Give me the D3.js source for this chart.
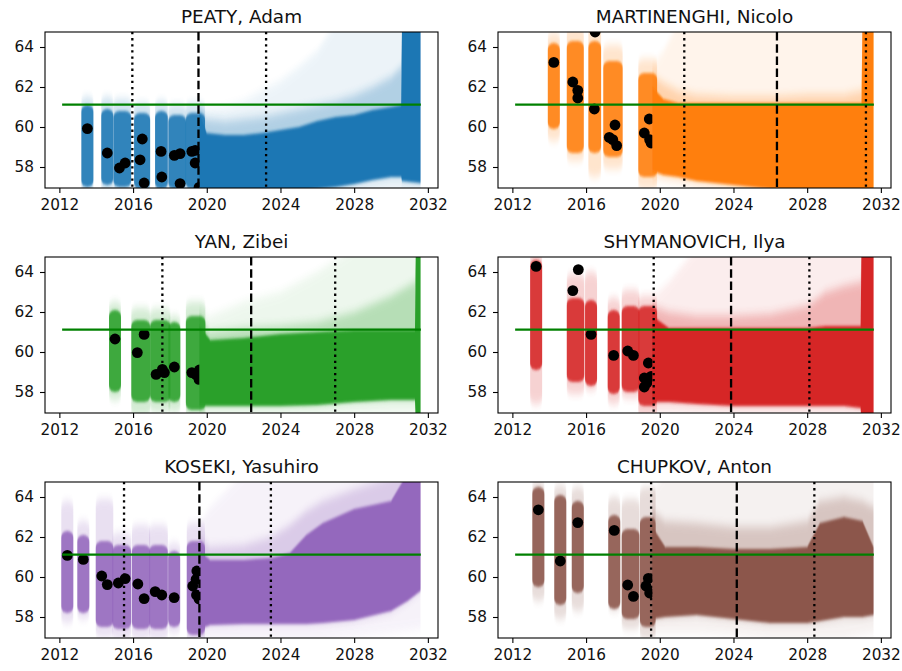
<!DOCTYPE html>
<html>
<head>
<meta charset="utf-8">
<script src="https://cdn.jsdelivr.net/npm/d3@7"></script>
<style>
  html, body { margin: 0; padding: 0; background: #fff; }
  svg { display: block; }
  text { font-family: "DejaVu Sans", sans-serif; fill: #111; }
</style>
</head>
<body>
<svg id="chart" width="902" height="671"></svg>
<script>
// ---------------- DATA ----------------
const athleteNames = ["PEATY, Adam", "MARTINENGHI, Nicolo", "YAN, Zibei",
                      "SHYMANOVICH, Ilya", "KOSEKI, Yasuhiro", "CHUPKOV, Anton"];
const xTicks = [2012, 2016, 2020, 2024, 2028, 2032];
const yTicks = [58, 60, 62, 64];
const referenceTime = 61.12;          // green horizontal line
const referenceSpan = [2012.15, 2031.62];

// observed swims [year, time]
const peatyObs = [[2013.52,59.92],[2014.6,58.7],[2015.26,57.95],[2015.57,58.2],[2016.38,58.36],[2016.5,59.4],
  [2016.6,57.2],[2017.52,58.78],[2017.56,57.5],[2018.24,58.58],[2018.55,58.67],[2018.55,57.17],
  [2019.19,58.78],[2019.37,58.83],[2019.37,58.2],[2019.58,56.98]];
const martinenghiObs = [[2014.25,63.23],[2015.28,62.25],[2015.55,61.83],[2015.55,61.45],[2016.49,64.75],
  [2016.45,60.9],[2017.26,59.48],[2017.45,59.37],[2017.57,60.1],[2017.66,59.07],[2019.16,59.7],
  [2019.43,60.4],[2019.45,59.37],[2019.53,59.2]];
const yanObs = [[2015.02,60.65],[2016.23,59.97],[2016.6,60.88],[2017.25,58.88],[2017.59,59.13],
  [2017.7,58.97],[2018.24,59.25],[2019.19,58.97],[2019.4,58.88],[2019.58,58.63],[2019.6,59.1]];
const shymanovichObs = [[2013.29,64.28],[2015.28,63.07],[2015.58,64.12],[2016.27,60.88],[2017.5,59.83],
  [2018.26,60.05],[2018.57,59.83],[2019.38,59.45],[2019.16,58.7],[2019.16,58.25],[2019.3,58.45],[2019.53,58.78]];
const kosekiObs = [[2012.43,61.08],[2013.3,60.88],[2014.3,60.05],[2014.6,59.62],[2015.2,59.7],[2015.57,59.92],
  [2016.26,59.65],[2016.6,58.92],[2017.2,59.27],[2017.56,59.1],[2018.23,58.97],[2019.24,59.55],
  [2019.46,60.3],[2019.44,59.1],[2019.58,58.9],[2019.42,59.88]];
const chupkovObs = [[2013.41,63.36],[2014.6,60.8],[2015.55,62.72],[2017.53,62.33],[2018.26,59.6],
  [2018.57,59.03],[2019.25,59.55],[2019.38,59.93],[2019.45,59.2]];

// simulated draws at observed meets: [yearStart, yearEnd, faintLo, coreLo, coreHi, faintHi]
const peatyCols = [[2013.52,2013.52,56.8,57.3,60.8,61.2],[2014.6,2014.6,57.0,57.4,60.6,61.2],
  [2015.26,2015.57,56.8,57.3,60.5,61.1],[2016.38,2016.6,56.8,57.2,60.4,60.9],
  [2017.52,2017.56,56.8,57.2,60.5,61.0],[2018.24,2018.55,56.8,57.2,60.3,60.8],
  [2019.19,2019.58,56.8,57.2,60.4,60.9]];
const martinenghiCols = [[2014.25,2014.25,59.6,60.2,63.9,64.4],[2015.28,2015.55,58.6,59.0,64.0,64.7],
  [2016.45,2016.49,57.8,59.0,64.0,64.9],[2017.26,2017.66,58.2,58.8,63.0,63.8],
  [2019.16,2019.53,57.2,57.8,62.4,63.1]];
const yanCols = [[2015.02,2015.02,57.9,58.3,61.8,62.2],[2016.23,2016.6,57.1,57.8,61.3,61.9],
  [2017.25,2017.7,57.3,57.8,61.3,61.85],[2018.24,2018.24,57.3,57.8,61.2,61.5],
  [2019.19,2019.6,57.0,57.4,61.5,62.2]];
const shymanovichCols = [[2013.29,2013.29,57.7,59.4,64.3,64.7],[2015.28,2015.58,58.2,58.8,62.4,63.6],
  [2016.27,2016.27,58.4,58.6,62.3,63.7],[2017.5,2017.5,57.7,58.2,61.8,62.4],
  [2018.26,2018.57,58.0,58.3,62.0,62.8],[2019.16,2019.53,57.0,57.6,62.0,62.5]];
const kosekiCols = [[2012.43,2012.43,58.0,58.5,62.0,63.5],[2013.3,2013.3,58.2,58.5,61.8,62.5],
  [2014.3,2014.6,57.3,57.8,61.5,63.6],[2015.2,2015.57,57.2,57.7,61.3,61.9],
  [2016.26,2016.6,57.2,57.7,61.3,62.3],[2017.2,2017.56,57.2,57.7,61.3,62.3],
  [2018.23,2018.23,57.5,57.8,61.0,61.4],[2019.24,2019.58,57.0,57.4,61.5,62.4]];
const chupkovCols = [[2013.41,2013.41,59.1,59.8,64.2,64.5],[2014.6,2014.6,58.2,58.9,63.8,64.3],
  [2015.55,2015.55,58.6,59.5,63.5,64.2],[2017.53,2017.53,58.6,58.7,62.8,63.7],
  [2018.26,2018.57,57.7,58.2,62.1,63.6],[2019.25,2019.45,57.2,57.8,62.7,64.2]];

// projected draws envelope: [year, faintLo, coreLo, coreHi, midHi, faintHi]
const peatyFan = [[2019.6,56.5,56.5,60.7,60.9,61.0],[2020.0,56.5,56.5,59.7,60.4,60.9],
  [2021,56.5,56.5,59.6,60.3,61.0],[2022,56.5,56.5,59.6,60.4,61.3],[2023,56.5,56.6,59.7,60.5,61.8],
  [2024,56.5,56.7,59.85,60.7,62.3],[2025,56.5,56.8,60.0,60.9,63.0],[2026,56.5,56.9,60.3,61.1,63.8],
  [2027,56.5,57.0,60.5,61.3,65.2],[2028,56.5,57.15,60.6,61.6,65.2],[2029,56.5,57.35,60.85,62.0,65.2],
  [2030,56.5,57.5,61.0,62.5,65.2],[2030.55,56.5,57.5,61.1,63.0,65.2],[2030.6,56.5,57.3,65.2,65.2,65.2],
  [2031.6,56.5,57.2,65.2,65.2,65.2]];
const martinenghiFan = [[2019.6,57.3,57.8,62.0,62.6,63.1],[2020.2,57.2,57.6,61.4,62.2,63.8],
  [2021,57.1,57.5,61.2,61.8,65.2],[2022,56.9,57.3,61.2,61.6,65.2],[2024,56.6,57.1,61.2,61.5,65.2],
  [2026,56.5,56.9,61.2,61.5,65.2],[2028,56.5,56.7,61.2,61.6,65.2],[2030,56.5,56.6,61.2,61.6,65.2],
  [2030.95,56.5,56.6,61.2,61.8,65.2],[2031.0,56.5,56.5,65.2,65.2,65.2],[2031.6,56.5,56.5,65.2,65.2,65.2]];
const yanFan = [[2019.6,56.8,57.3,61.3,61.8,62.2],[2020.2,56.8,57.3,60.6,61.0,61.8],
  [2022,56.8,57.3,60.7,61.2,62.5],[2024,56.8,57.3,60.9,61.3,63.0],[2026,56.8,57.35,61.0,61.5,64.0],
  [2028,56.8,57.5,61.1,62.0,65.2],[2030,56.8,57.6,61.1,62.8,65.2],[2031.3,56.8,57.6,61.1,63.5,65.2],
  [2031.35,56.5,56.5,65.2,65.2,65.2],[2031.6,56.5,56.5,65.2,65.2,65.2]];
const shymanovichFan = [[2019.6,56.8,57.5,61.8,62.3,62.7],[2020.5,56.8,57.5,61.2,62.0,63.5],
  [2022,56.8,57.4,61.2,61.8,65.2],[2024,56.8,57.3,61.2,61.8,65.2],[2026,56.8,57.3,61.2,61.9,65.2],
  [2028,56.8,57.3,61.2,62.3,65.2],[2029,56.8,57.3,61.3,63.0,65.2],[2030,56.8,57.3,61.3,63.3,65.2],
  [2030.9,56.8,57.2,61.3,63.5,65.2],[2030.95,56.5,56.5,65.2,65.2,65.2],[2031.6,56.5,56.5,65.2,65.2,65.2]];
const kosekiFan = [[2019.6,56.8,57.4,61.3,62.0,62.6],[2020.2,56.8,57.6,60.85,61.5,63.5],
  [2022,56.8,57.65,60.85,61.6,65.2],[2023.5,56.8,57.65,60.95,62.0,65.2],[2024.5,56.8,57.65,61.2,62.6,65.2],
  [2025.4,56.8,57.65,62.1,63.3,65.2],[2026.3,56.8,57.7,62.7,63.8,65.2],[2028,57.0,57.85,63.4,64.4,65.2],
  [2030,57.2,58.3,63.8,65.0,65.2],[2030.9,57.3,58.8,65.2,65.2,65.2],[2031.6,57.4,59.3,65.2,65.2,65.2]];
const chupkovFan = [[2019.6,57.2,57.9,62.5,63.3,64.3],[2020.3,57.2,58.0,61.5,62.8,65.2],
  [2022,57.2,58.1,61.5,62.7,65.2],[2024,57.1,57.9,61.4,62.5,65.2],[2026,56.9,57.7,61.4,62.5,65.2],
  [2028,56.9,57.7,61.5,62.8,65.2],[2028.7,56.9,57.8,62.7,63.8,65.2],[2030,56.9,58.0,63.0,64.0,65.2],
  [2031,57.1,58.0,62.8,63.8,65.2],[2031.6,57.2,58.1,61.5,63.5,65.2]];

// vertical markers [dotted, dashed, dotted]
const peatyMarks = [2015.96, 2019.55, 2023.22];
const martinenghiMarks = [2021.33, 2026.36, 2031.19];
const yanMarks = [2017.59, 2022.41, 2026.97];
const shymanovichMarks = [2019.67, 2023.87, 2028.12];
const kosekiMarks = [2015.51, 2019.6, 2023.48];
const chupkovMarks = [2019.53, 2024.18, 2028.39];

// ---------------- STYLE / LAYOUT ----------------
const palette = ["#1f77b4", "#ff7f0e", "#2ca02c", "#d62728", "#9467bd", "#8c564b"];
const colLeft = [45, 498], rowTop = [32, 257, 482];
const PW = 393, PH = 156;

const panels = [
  {name: athleteNames[0], obs: peatyObs, cols: peatyCols, fan: peatyFan, marks: peatyMarks},
  {name: athleteNames[1], obs: martinenghiObs, cols: martinenghiCols, fan: martinenghiFan, marks: martinenghiMarks},
  {name: athleteNames[2], obs: yanObs, cols: yanCols, fan: yanFan, marks: yanMarks},
  {name: athleteNames[3], obs: shymanovichObs, cols: shymanovichCols, fan: shymanovichFan, marks: shymanovichMarks},
  {name: athleteNames[4], obs: kosekiObs, cols: kosekiCols, fan: kosekiFan, marks: kosekiMarks},
  {name: athleteNames[5], obs: chupkovObs, cols: chupkovCols, fan: chupkovFan, marks: chupkovMarks}
];

const svg = d3.select("#chart");
const defs = svg.append("defs");
defs.append("filter").attr("id", "vblur").attr("x", "-5%").attr("y", "-20%").attr("width", "110%").attr("height", "140%")
  .append("feGaussianBlur").attr("stdDeviation", "0.6 5");
defs.append("filter").attr("id", "vblurS").attr("x", "-5%").attr("y", "-20%").attr("width", "110%").attr("height", "140%")
  .append("feGaussianBlur").attr("stdDeviation", "0.3 1.8");
defs.append("filter").attr("id", "cblur").attr("x", "-50%").attr("y", "-20%").attr("width", "200%").attr("height", "140%")
  .append("feGaussianBlur").attr("stdDeviation", "0.5 4");

const x = d3.scaleLinear().domain([2011.22, 2032.55]).range([0, PW]);
const y = d3.scaleLinear().domain([56.95, 64.75]).range([PH, 0]);
const markerD = 12;

panels.forEach((p, i) => {
  const color = palette[i];
  const gx = colLeft[i % 2], gy = rowTop[Math.floor(i / 2)];
  const g = svg.append("g").attr("transform", `translate(${gx},${gy})`);
  const clipId = "clip" + i;
  g.append("clipPath").attr("id", clipId).append("rect").attr("width", PW).attr("height", PH);
  const plot = g.append("g").attr("clip-path", `url(#${clipId})`);

  // simulated columns at meets
  plot.selectAll("rect.faint").data(p.cols).join("rect")
    .attr("x", d => x(d[0]) - markerD / 2).attr("width", d => x(d[1]) - x(d[0]) + markerD)
    .attr("y", d => y(d[5]) - markerD / 2).attr("height", d => y(d[2]) - y(d[5]) + markerD)
    .attr("rx", markerD / 2).attr("fill", color).attr("opacity", 0.2).attr("filter", "url(#cblur)");
  plot.selectAll("rect.core").data(p.cols).join("rect")
    .attr("x", d => x(d[0]) - markerD / 2).attr("width", d => x(d[1]) - x(d[0]) + markerD)
    .attr("y", d => y(d[4]) - markerD / 2).attr("height", d => y(d[3]) - y(d[4]) + markerD)
    .attr("rx", markerD / 2).attr("fill", color).attr("opacity", 0.88).attr("filter", "url(#vblurS)");

  // observed swims
  plot.selectAll("circle.obs").data(p.obs).join("circle")
    .attr("cx", d => x(d[0])).attr("cy", d => y(d[1])).attr("r", 5.4).attr("fill", "#000");

  // projection fan
  const areaFaint = d3.area().x(d => x(d[0])).y0(d => y(d[1])).y1(d => y(d[5]));
  const areaMid = d3.area().x(d => x(d[0])).y0(d => y(d[2])).y1(d => y(d[4]));
  const areaCore = d3.area().x(d => x(d[0])).y0(d => y(d[2])).y1(d => y(d[3]));
  plot.append("path").datum(p.fan).attr("d", areaFaint).attr("fill", color).attr("opacity", 0.08)
    .attr("filter", "url(#vblur)");
  plot.append("path").datum(p.fan).attr("d", areaMid).attr("fill", color).attr("opacity", 0.28)
    .attr("filter", "url(#vblur)");
  plot.append("path").datum(p.fan).attr("d", areaCore).attr("fill", color).attr("opacity", 1)
    .attr("filter", "url(#vblurS)");

  // reference line
  plot.append("line")
    .attr("x1", x(referenceSpan[0])).attr("x2", x(referenceSpan[1]))
    .attr("y1", y(referenceTime)).attr("y2", y(referenceTime))
    .attr("stroke", "#008000").attr("stroke-width", 2.3);

  // vertical markers
  const dashes = ["2.3,3.8", "8.5,3.7", "2.3,3.8"];
  p.marks.forEach((m, k) => {
    plot.append("line").attr("x1", x(m)).attr("x2", x(m)).attr("y1", 0).attr("y2", PH)
      .attr("stroke", "#000").attr("stroke-width", 2.3).attr("stroke-dasharray", dashes[k]);
  });

  // axes
  const xa = g.append("g").attr("transform", `translate(0,${PH})`)
    .call(d3.axisBottom(x).tickValues(xTicks).tickFormat(d3.format("d")).tickSize(5).tickPadding(6));
  const ya = g.append("g")
    .call(d3.axisLeft(y).tickValues(yTicks).tickFormat(d3.format("d")).tickSize(5).tickPadding(6));
  [xa, ya].forEach(a => {
    a.select(".domain").remove();
    a.selectAll("line").attr("stroke", "#000").attr("stroke-width", 1.1);
    a.selectAll("text").style("font-size", "15.3px").style("font-family", "DejaVu Sans, sans-serif").attr("fill", "#1a1a1a");
  });
  g.append("rect").attr("width", PW).attr("height", PH).attr("fill", "none")
    .attr("stroke", "#000").attr("stroke-width", 1.1);

  // title
  g.append("text").attr("x", PW / 2).attr("y", -9).attr("text-anchor", "middle")
    .style("font-size", "18.4px").text(p.name);
});
</script>
</body>
</html>
